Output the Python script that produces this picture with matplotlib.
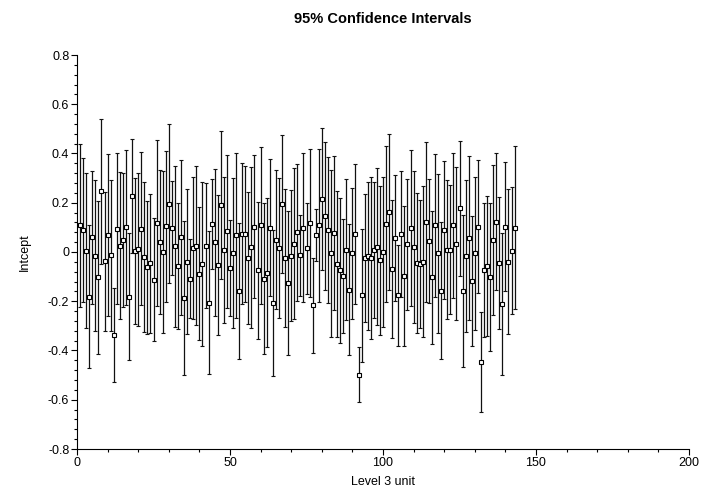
import matplotlib
matplotlib.use("Agg")
import matplotlib.pyplot as plt
from matplotlib.ticker import MultipleLocator, FuncFormatter

plt.rcParams['font.family'] = ['Liberation Sans', 'DejaVu Sans']

units = list(range(1, 144))

estimates = [
    0.108, 0.089, 0.005, -0.181, 0.059, -0.015, -0.103, 0.246, -0.038, 0.069,
    -0.014, -0.338, 0.095, 0.026, 0.050, 0.100, -0.181, 0.226, 0.004, 0.011,
    0.095, -0.019, -0.062, -0.045, -0.112, 0.118, 0.039, 0.000, 0.104, 0.196,
    0.099, 0.024, -0.058, 0.059, -0.187, -0.039, -0.108, 0.016, 0.026, -0.088,
    -0.049, 0.026, -0.206, 0.114, 0.039, -0.053, 0.192, 0.009, 0.084, -0.064,
    -0.004, 0.069, -0.157, 0.074, 0.074, -0.024, 0.020, 0.103, -0.075, 0.108,
    -0.108, -0.084, 0.099, -0.206, 0.050, 0.015, 0.196, -0.024, -0.127, -0.015,
    0.034, 0.080, -0.014, 0.099, 0.015, 0.118, -0.217, 0.069, 0.108, 0.216,
    0.147, 0.088, -0.006, 0.078, -0.049, -0.075, -0.097, 0.009, -0.153, -0.006,
    0.074, -0.498, -0.176, -0.024, -0.015, -0.024, 0.009, 0.022, -0.034, 0.000,
    0.114, 0.162, -0.069, 0.055, -0.176, 0.074, -0.097, 0.031, 0.099, 0.020,
    -0.045, -0.049, -0.039, 0.123, 0.045, -0.103, 0.108, -0.006, -0.157, 0.089,
    0.009, 0.009, 0.108, 0.034, 0.177, -0.157, -0.015, 0.055, -0.118, -0.006,
    0.103, -0.446, -0.075, -0.058, -0.103, 0.050, 0.123, -0.045, -0.211, 0.103,
    -0.039, 0.005, 0.099,
]

half_widths = [
    0.330, 0.294, 0.314, 0.290, 0.270, 0.307, 0.310, 0.294, 0.282, 0.330,
    0.305, 0.190, 0.305, 0.300, 0.272, 0.315, 0.257, 0.232, 0.296, 0.310,
    0.312, 0.305, 0.270, 0.282, 0.250, 0.337, 0.292, 0.327, 0.308, 0.323,
    0.191, 0.327, 0.256, 0.314, 0.312, 0.293, 0.160, 0.289, 0.322, 0.270,
    0.333, 0.253, 0.290, 0.183, 0.300, 0.283, 0.300, 0.297, 0.310, 0.195,
    0.305, 0.335, 0.276, 0.286, 0.277, 0.268, 0.327, 0.290, 0.280, 0.318,
    0.306, 0.302, 0.277, 0.297, 0.281, 0.285, 0.281, 0.280, 0.293, 0.267,
    0.306, 0.277, 0.165, 0.302, 0.185, 0.300, 0.193, 0.107, 0.310, 0.289,
    0.300, 0.296, 0.341, 0.312, 0.295, 0.295, 0.230, 0.286, 0.267, 0.265,
    0.285, 0.112, 0.270, 0.260, 0.300, 0.330, 0.275, 0.318, 0.304, 0.303,
    0.318, 0.318, 0.279, 0.256, 0.204, 0.256, 0.284, 0.266, 0.317, 0.309,
    0.285, 0.260, 0.307, 0.325, 0.253, 0.271, 0.291, 0.322, 0.279, 0.280,
    0.283, 0.262, 0.295, 0.311, 0.274, 0.308, 0.308, 0.333, 0.265, 0.312,
    0.270, 0.202, 0.272, 0.285, 0.300, 0.304, 0.278, 0.268, 0.287, 0.262,
    0.296, 0.257, 0.330,
]

title = "95% Confidence Intervals"
xlabel = "Level 3 unit"
ylabel = "Intcept"

fig = plt.figure(figsize=(7.06, 4.98), dpi=100)
ax = fig.add_axes([77 / 706, 1 - 449 / 498, 612 / 706, 394 / 498])

ax.errorbar(units, estimates, yerr=half_widths, fmt='s', color='black',
            ecolor='#111111', elinewidth=0.9, capsize=1.6, capthick=0.9,
            markersize=3.2, markerfacecolor='white', markeredgecolor='black',
            markeredgewidth=0.8)

ax.set_xlim(0, 200)
ax.set_ylim(-0.8, 0.8)
ax.xaxis.set_major_locator(MultipleLocator(50))
ax.xaxis.set_minor_locator(MultipleLocator(10))
ax.yaxis.set_major_locator(MultipleLocator(0.2))
ax.yaxis.set_minor_locator(MultipleLocator(0.04))


def yfmt(v, pos):
    if abs(v) < 1e-9:
        return "0"
    return "%.1f" % v


ax.yaxis.set_major_formatter(FuncFormatter(yfmt))

for s in ['top', 'right']:
    ax.spines[s].set_visible(False)
for s in ['left', 'bottom']:
    ax.spines[s].set_linewidth(0.8)
    ax.spines[s].set_color('black')

ax.tick_params(axis='both', which='major', direction='out', length=4,
               width=0.8, labelsize=9, pad=1.5, colors='black')
ax.tick_params(axis='both', which='minor', direction='out', length=2.2,
               width=0.8)

ax.set_xlabel(xlabel, fontsize=9, labelpad=5)
ax.set_ylabel(ylabel, fontsize=9, labelpad=12)
fig.text(383 / 706, 1 - 19 / 498, title, ha='center', va='center',
         fontsize=10.5, fontweight='bold')

fig.savefig("out.png", dpi=100)
